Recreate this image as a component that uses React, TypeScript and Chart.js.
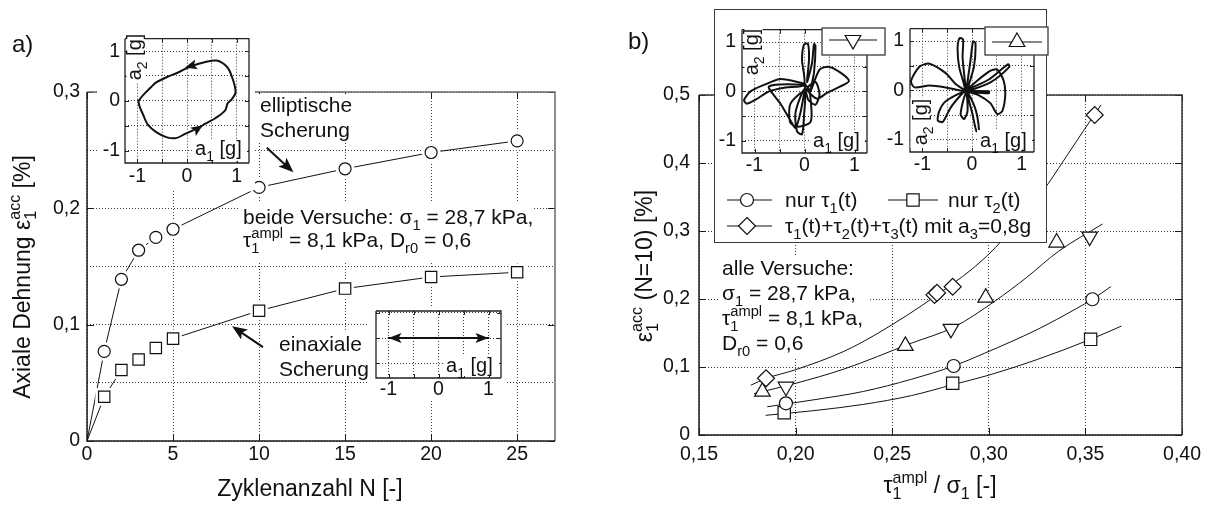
import React, { useEffect, useRef } from 'react';
import { Chart, registerables } from 'chart.js';

Chart.register(...registerables);

const FONT = '"Liberation Sans", Arial, Helvetica, sans-serif';
const INK = '#111111';
const GRID = '#3c3c3c';
const TICK_FONT = 19.5;

// ---------- a) accumulated axial strain vs. number of cycles ----------
const cyclesN = [1, 2, 3, 4, 5, 10, 15, 20, 25];
const strainElliptic = [0.077, 0.139, 0.164, 0.175, 0.182, 0.218, 0.234, 0.248, 0.258];
const strainUniaxial = [0.038, 0.061, 0.070, 0.080, 0.088, 0.112, 0.131, 0.141, 0.145];
const startN = 0;
const startStrain = 0;
const cycleTicks = [0, 5, 10, 15, 20, 25];
const strainTicksA = [0, 0.05, 0.1, 0.15, 0.2, 0.25, 0.3];

// inset: acceleration loop of the elliptic shear test (a1, a2 in g)
const loopA1 = [-0.98, -0.88, -0.72, -0.62, -0.42, -0.16, 0.07, 0.37, 0.6, 0.8, 0.9, 0.98, 0.9, 0.82, 0.77, 0.57, 0.37, 0.2, -0.03, -0.22, -0.42, -0.62, -0.79, -0.88, -0.96, -0.98];
const loopA2 = [0.0, 0.12, 0.28, 0.37, 0.47, 0.58, 0.69, 0.78, 0.81, 0.69, 0.5, 0.18, 0.03, -0.05, -0.19, -0.35, -0.46, -0.56, -0.66, -0.75, -0.73, -0.63, -0.48, -0.29, -0.1, 0.0];
// inset: acceleration path of the uniaxial shear test
const uniA1 = [-1, 1];
const uniA2 = [0, 0];
const accelTicks = [-1, -0.5, 0, 0.5, 1];
const uniA2Ticks = [-0.5, 0, 0.5];

// ---------- b) strain after N = 10 cycles vs. shear stress ratio ----------
const ratioTau1 = [0.195, 0.2818, 0.3536];
const strainTau1 = [0.0466, 0.1015, 0.1996];
const ratioTau2 = [0.1941, 0.2813, 0.3527];
const strainTau2 = [0.0328, 0.076, 0.1407];
const ratioAll = [0.1847, 0.2719, 0.2732, 0.2813, 0.3548];
const strainAll = [0.0834, 0.206, 0.209, 0.218, 0.4706];
const ratioDown = [0.195, 0.2804, 0.3522];
const strainDown = [0.071, 0.156, 0.2917];
const ratioUp = [0.1828, 0.2568, 0.2984, 0.3351];
const strainUp = [0.0637, 0.131, 0.202, 0.283];
const ratioTicks = [0.15, 0.2, 0.25, 0.3, 0.35, 0.4];
const strainTicksB = [0, 0.1, 0.2, 0.3, 0.4, 0.5];

// fitted trend curves
const fitAllX = [0.177, 0.185, 0.2, 0.225, 0.2428, 0.2727, 0.3, 0.3283, 0.3386, 0.3489, 0.358];
const fitAllY = [0.0735, 0.0834, 0.096, 0.123, 0.15, 0.205, 0.266, 0.36, 0.403, 0.447, 0.485];
const fitTriX = [0.1787, 0.2, 0.225, 0.2599, 0.2822, 0.3027, 0.3197, 0.336, 0.3587];
const fitTriY = [0.061, 0.076, 0.097, 0.135, 0.159, 0.196, 0.232, 0.27, 0.31];
const fitTau1X = [0.1855, 0.21, 0.235, 0.26, 0.2818, 0.2976, 0.325, 0.3454, 0.3536, 0.363];
const fitTau1Y = [0.0416, 0.052, 0.064, 0.082, 0.1015, 0.12, 0.155, 0.186, 0.1996, 0.218];
const fitTau2X = [0.1847, 0.21, 0.235, 0.26, 0.2813, 0.3, 0.325, 0.3527, 0.3685];
const fitTau2Y = [0.029, 0.036, 0.045, 0.058, 0.074, 0.088, 0.111, 0.1407, 0.16];

// insets: acceleration traces of the two multiaxial tests
const traceDownA1 = [0.02, -0.48, -0.81, -1.08, -1.21, -1.15, -0.98, -0.71, -0.38, -0.01,
  -0.05, -0.01, 0.07, 0.09, 0.05,
  0.15, 0.19, 0.22, 0.19, 0.12,
  0.3, 0.48, 0.72, 0.89, 0.72, 0.45, 0.25, 0.05,
  0.22, 0.3, 0.22, 0.08, 0.0,
  -0.18, -0.15, -0.05, -0.01, 0.0,
  -0.28, -0.29, -0.15, 0.12, 0.13, 0.05,
  -0.71, -0.48, -0.28, -0.18, -0.08, 0.02];
const traceDownA2 = [0.15, 0.25, 0.13, 0.0, -0.18, -0.25, -0.17, 0.0, 0.08, 0.13,
  0.64, 0.95, 0.96, 0.64, 0.19,
  0.57, 0.96, 0.92, 0.38, 0.0,
  0.44, 0.5, 0.38, 0.21, 0.1, -0.03, -0.15, 0.05,
  0.19, -0.06, -0.27, -0.18, 0.05,
  -0.43, -0.81, -0.87, -0.5, 0.0,
  -0.25, -0.62, -0.72, -0.62, -0.25, 0.1,
  0.1, -0.25, -0.59, -0.74, -0.43, 0.13];
const traceUpA1 = [-0.14, -0.33, -0.53, -0.86, -1.06, -1.23, -1.16, -0.86, -0.53, -0.26, -0.14,
  -0.26, -0.29, -0.25, -0.18, -0.19, -0.14, -0.12,
  -0.03, 0.02, 0.07, 0.04, -0.09,
  0.01, 0.09, 0.14, 0.06, -0.11,
  -0.23, -0.16, -0.09, -0.14,
  -0.53, -0.66, -0.69, -0.59, -0.43, -0.23, -0.12,
  0.34, 0.73, 0.75, 0.37, -0.1,
  0.34, 0.51, 0.64, 0.67, 0.61, 0.51, 0.37, 0.14, -0.1,
  0.34, 0.34, -0.12];
const traceUpA2 = [0.0, 0.13, 0.35, 0.54, 0.48, 0.19, 0.06, 0.1, 0.06, 0.0, 0.0,
  0.48, 0.87, 1.06, 1.03, 0.67, 0.16, 0.0,
  0.61, 0.99, 0.96, 0.48, -0.03,
  -0.48, -0.83, -0.8, -0.35, -0.04,
  -0.48, -0.58, -0.42, -0.04,
  -0.22, -0.42, -0.61, -0.64, -0.35, -0.1, 0.0,
  0.22, 0.53, 0.47, 0.16, 0.0,
  0.38, 0.42, 0.19, -0.1, -0.42, -0.48, -0.26, -0.1, -0.02,
  -0.02, -0.06, -0.03];

// ---------- helpers ----------
const pts = (xs: number[], ys: number[]) => xs.map((x, i) => ({ x, y: ys[i] }));
const fmtComma = (v: number, digits: number) => (Math.abs(v) < 1e-9 ? '0' : v.toFixed(digits).replace('.', ','));
const isMultiple = (v: number, step: number) => Math.abs(v / step - Math.round(v / step)) < 1e-6;
const intLabel = (v: number) => (isMultiple(v, 1) ? String(Math.round(v)) : '');

type AxisSpec = {
  min: number; max: number; ticks: number[]; size: number; pad: number;
  label?: (v: number) => string; showLabels?: boolean;
};

function linearAxis(s: AxisSpec) {
  return {
    type: 'linear',
    min: s.min,
    max: s.max,
    afterBuildTicks: (scale: any) => { scale.ticks = s.ticks.map((value) => ({ value })); },
    afterFit: (scale: any) => { if (scale.isHorizontal()) scale.height = s.size; else scale.width = s.size; },
    ticks: {
      display: s.showLabels !== false,
      autoSkip: false,
      maxRotation: 0,
      minRotation: 0,
      padding: s.pad,
      color: INK,
      font: { family: FONT, size: TICK_FONT },
      callback: (v: any) => (s.label ? s.label(Number(v)) : String(v)),
    },
    grid: { color: GRID, lineWidth: 1, drawTicks: false },
    border: { display: false, dash: [1, 2] },
  };
}

// axis frame with inward tick marks
const framePlugin = {
  id: 'frame',
  beforeDatasetsDraw(chart: any, _args: any, o: any) {
    if (!o || !o.width) return;
    const { ctx } = chart;
    const { left, right, top, bottom } = chart.chartArea;
    const sx = chart.scales.x;
    const sy = chart.scales.y;
    ctx.save();
    ctx.lineWidth = 1;
    ctx.strokeStyle = o.near;
    ctx.beginPath();
    for (const t of sx.ticks) {
      if (o.labeledOnly && !t.label) continue;
      const p = Math.round(sx.getPixelForValue(t.value)) + 0.5;
      ctx.moveTo(p, bottom); ctx.lineTo(p, bottom - o.tick);
      ctx.moveTo(p, top); ctx.lineTo(p, top + o.tick);
    }
    for (const t of sy.ticks) {
      if (o.labeledOnly && !t.label) continue;
      const p = Math.round(sy.getPixelForValue(t.value)) + 0.5;
      ctx.moveTo(left, p); ctx.lineTo(left + o.tick, p);
      ctx.moveTo(right, p); ctx.lineTo(right - o.tick, p);
    }
    ctx.stroke();
    ctx.lineWidth = o.width;
    ctx.strokeStyle = o.far;
    ctx.beginPath();
    ctx.moveTo(left, top); ctx.lineTo(right, top); ctx.lineTo(right, bottom);
    ctx.stroke();
    ctx.strokeStyle = o.near;
    ctx.beginPath();
    ctx.moveTo(left, top); ctx.lineTo(left, bottom); ctx.lineTo(right, bottom);
    ctx.stroke();
    ctx.restore();
  },
};

// arrows given in data coordinates
const arrowPlugin = {
  id: 'arrows',
  afterDatasetsDraw(chart: any, _args: any, o: any) {
    const items = (o && o.items) || [];
    const { ctx } = chart;
    const sx = chart.scales.x;
    const sy = chart.scales.y;
    ctx.save();
    ctx.strokeStyle = INK;
    ctx.fillStyle = INK;
    for (const a of items) {
      const x1 = sx.getPixelForValue(a.from[0]);
      const y1 = sy.getPixelForValue(a.from[1]);
      const x2 = sx.getPixelForValue(a.to[0]);
      const y2 = sy.getPixelForValue(a.to[1]);
      const ang = Math.atan2(y2 - y1, x2 - x1);
      const c = Math.cos(ang);
      const s = Math.sin(ang);
      if (!a.headOnly) {
        ctx.lineWidth = a.lw || 1.5;
        ctx.beginPath();
        ctx.moveTo(x1, y1);
        ctx.lineTo(x2 - c * a.head * 0.7, y2 - s * a.head * 0.7);
        ctx.stroke();
      }
      const bx = x2 - c * a.head;
      const by = y2 - s * a.head;
      const nx = -s;
      const ny = c;
      ctx.beginPath();
      ctx.moveTo(x2, y2);
      ctx.lineTo(bx + nx * a.half, by + ny * a.half);
      ctx.lineTo(x2 - c * a.head * 0.78, y2 - s * a.head * 0.78);
      ctx.lineTo(bx - nx * a.half, by - ny * a.half);
      ctx.closePath();
      ctx.fill();
    }
    ctx.restore();
  },
};

const marker = (data: any[], style: string, r: number, rot = 0) => ({
  data, showLine: false, pointStyle: style, pointRadius: r, pointRotation: rot,
  pointBackgroundColor: '#ffffff', pointBorderColor: INK, pointBorderWidth: 1.2,
});
const halo = (data: any[], style: string, r: number) => ({
  data, showLine: false, pointStyle: style, pointRadius: r,
  pointBackgroundColor: '#ffffff', pointBorderColor: '#ffffff', pointBorderWidth: 0,
});
const line = (data: any[], lw: number, tension: number, monotone = false) => ({
  data, showLine: true, borderColor: INK, borderWidth: lw, pointRadius: 0, fill: false,
  tension, cubicInterpolationMode: monotone ? 'monotone' : 'default',
  borderJoinStyle: 'round', borderCapStyle: 'round',
});

function baseOptions(padding: any, scales: any, plugins: any) {
  return {
    responsive: false,
    animation: false,
    events: [],
    layout: { padding },
    plugins: { legend: { display: false }, tooltip: { enabled: false }, ...plugins },
    scales,
  };
}

const insetFrame = { near: '#222222', far: '#222222', width: 1.3, tick: 4, labeledOnly: false };

// ---------- chart builders ----------
function buildStrainCycles() {
  const elliptic = pts(cyclesN, strainElliptic);
  const uniaxial = pts(cyclesN, strainUniaxial);
  const start = { x: startN, y: startStrain };
  return {
    type: 'scatter',
    data: {
      datasets: [
        marker(elliptic, 'circle', 6),
        marker(uniaxial, 'rect', 8),
        halo(elliptic, 'circle', 9.5),
        halo(uniaxial, 'rect', 12.5),
        line([start, ...elliptic], 1, 0),
        line([start, ...uniaxial], 1, 0),
      ],
    },
    options: baseOptions({ left: 37, right: 45, top: 92, bottom: 25 }, {
      x: linearAxis({ min: 0, max: 27.2, ticks: cycleTicks, size: 40, pad: 2, label: (v) => String(v) }),
      y: linearAxis({ min: 0, max: 0.3, ticks: strainTicksA, size: 50, pad: 7, label: (v) => (isMultiple(v, 0.1) ? fmtComma(v, 1) : '') }),
    }, {
      frame: { near: '#1a1a1a', far: '#6a6a6a', width: 1.5, tick: 7, labeledOnly: true },
      arrows: {
        items: [
          { from: [10.45, 0.252], to: [12.0, 0.231], lw: 2, head: 15, half: 6 },
          { from: [10.23, 0.0807], to: [8.43, 0.0987], lw: 2, head: 15, half: 6 },
        ],
      },
    }),
    plugins: [framePlugin, arrowPlugin],
  };
}

function buildEllipticInset() {
  return {
    type: 'scatter',
    data: { datasets: [line(pts(loopA1, loopA2), 2, 0.35)] },
    options: baseOptions({ left: 0, right: 6, top: 9, bottom: 0 }, {
      x: linearAxis({ min: -1.25, max: 1.25, ticks: accelTicks, size: 27, pad: 2, label: intLabel }),
      y: linearAxis({ min: -1.25, max: 1.25, ticks: accelTicks, size: 28, pad: 5, label: intLabel }),
    }, {
      frame: insetFrame,
      arrows: {
        items: [
          { from: [0.22, 0.74], to: [-0.04, 0.67], head: 12, half: 5, headOnly: true },
          { from: [0.1, -0.64], to: [0.32, -0.49], head: 12, half: 5, headOnly: true },
        ],
      },
    }),
    plugins: [framePlugin, arrowPlugin],
  };
}

function buildUniaxialInset() {
  return {
    type: 'scatter',
    data: { datasets: [line(pts(uniA1, uniA2), 2, 0)] },
    options: baseOptions({ left: 0, right: 5, top: 5, bottom: 0 }, {
      x: linearAxis({ min: -1.25, max: 1.25, ticks: accelTicks, size: 22, pad: 0, label: intLabel }),
      y: linearAxis({ min: -0.8, max: 0.54, ticks: uniA2Ticks, size: 8, pad: 0, showLabels: false }),
    }, {
      frame: insetFrame,
      arrows: {
        items: [
          { from: [-0.5, 0], to: [-1, 0], head: 13, half: 5, headOnly: true },
          { from: [0.5, 0], to: [1, 0], head: 13, half: 5, headOnly: true },
        ],
      },
    }),
    plugins: [framePlugin, arrowPlugin],
  };
}

function buildStrainRatio() {
  return {
    type: 'scatter',
    data: {
      datasets: [
        marker(pts(ratioTau1, strainTau1), 'circle', 6.5),
        marker(pts(ratioTau2, strainTau2), 'rect', 8.7),
        marker(pts(ratioAll, strainAll), 'rectRot', 8.5),
        marker(pts(ratioDown, strainDown), 'triangle', 9, 180),
        marker(pts(ratioUp, strainUp), 'triangle', 9),
        line(pts(fitAllX, fitAllY), 1, 0.4, true),
        line(pts(fitTriX, fitTriY), 1, 0.4, true),
        line(pts(fitTau1X, fitTau1Y), 1, 0.4, true),
        line(pts(fitTau2X, fitTau2Y), 1, 0.4, true),
      ],
    },
    options: baseOptions({ left: 49, right: 22, top: 95, bottom: 31 }, {
      x: linearAxis({ min: 0.15, max: 0.4, ticks: ratioTicks, size: 40, pad: 8, label: (v) => fmtComma(v, 2) }),
      y: linearAxis({ min: 0, max: 0.5, ticks: strainTicksB, size: 50, pad: 9, label: (v) => fmtComma(v, 1) }),
    }, {
      frame: { near: '#1a1a1a', far: '#333333', width: 1.5, tick: 7, labeledOnly: true },
    }),
    plugins: [framePlugin],
  };
}

function buildTraceInset(a1: number[], a2: number[]) {
  return () => ({
    type: 'scatter',
    data: { datasets: [line(pts(a1, a2), 2, 0.25)] },
    options: baseOptions({ left: 0, right: 4, top: 8, bottom: 0 }, {
      x: linearAxis({ min: -1.25, max: 1.25, ticks: accelTicks, size: 31, pad: 1, label: intLabel }),
      y: linearAxis({ min: -1.25, max: 1.25, ticks: accelTicks, size: 26, pad: 6, label: intLabel }),
    }, { frame: insetFrame }),
    plugins: [framePlugin],
  });
}

// ---------- components ----------
function ChartBox({ left, top, width, height, build, bg }: any) {
  const ref = useRef<HTMLCanvasElement>(null);
  useEffect(() => {
    const chart = new Chart(ref.current as HTMLCanvasElement, build() as any);
    return () => chart.destroy();
  }, []);
  return (
    <canvas
      ref={ref}
      width={width}
      height={height}
      style={{ position: 'absolute', left, top, width, height, background: bg || 'transparent' }}
    />
  );
}

type Part = string | { sub?: string; sup?: string };

function Rich({ x, y, fs, parts, anchor = 'start', rotate = false }: {
  x: number; y: number; fs: number; parts: Part[]; anchor?: 'start' | 'middle' | 'end'; rotate?: boolean;
}) {
  const nodes: any[] = [];
  const small = fs * 0.7;
  const down = fs * 0.28;
  const up = fs * 0.42;
  let off = 0;
  parts.forEach((p, i) => {
    if (typeof p === 'string') {
      nodes.push(<tspan key={i} fontSize={fs} dy={-off}>{p}</tspan>);
      off = 0;
    } else {
      if (p.sub !== undefined) {
        nodes.push(<tspan key={i + 's'} fontSize={small} dy={down - off}>{p.sub}</tspan>);
        off = down;
      }
      if (p.sup !== undefined) {
        const back = p.sub !== undefined ? p.sub.length * 0.556 * small : 0;
        nodes.push(<tspan key={i + 'p'} fontSize={small} dx={-back} dy={-up - off}>{p.sup}</tspan>);
        off = -up;
      }
    }
  });
  return (
    <text
      x={x}
      y={y}
      fontFamily={FONT}
      fill={INK}
      textAnchor={anchor}
      style={{ whiteSpace: 'pre' }}
      transform={rotate ? `rotate(-90 ${x} ${y})` : undefined}
    >
      {nodes}
    </text>
  );
}

function Sym({ kind, cx, cy }: { kind: string; cx: number; cy: number }) {
  const common = { fill: '#ffffff', stroke: INK, strokeWidth: 1.2 };
  if (kind === 'circle') return <circle cx={cx} cy={cy} r={6.5} {...common} />;
  if (kind === 'square') {
    const h = 6.15;
    return <rect x={cx - h} y={cy - h} width={2 * h} height={2 * h} {...common} />;
  }
  if (kind === 'diamond') {
    const r = 8.5;
    return <polygon points={`${cx},${cy - r} ${cx + r},${cy} ${cx},${cy + r} ${cx - r},${cy}`} {...common} />;
  }
  const r = 9;
  const s = kind === 'up' ? 1 : -1;
  const p = [[cx, cy - s * r], [cx + 0.866 * r, cy + s * 0.5 * r], [cx - 0.866 * r, cy + s * 0.5 * r]];
  return <polygon points={p.map((q) => q.join(',')).join(' ')} {...common} />;
}

function Key({ kind, x1, x2, cx, cy }: { kind: string; x1: number; x2: number; cx: number; cy: number }) {
  return (
    <g>
      <line x1={x1} y1={cy} x2={x2} y2={cy} stroke={INK} strokeWidth={1} />
      <Sym kind={kind} cx={cx} cy={cy} />
    </g>
  );
}

const White = ({ x, y, w, h }: { x: number; y: number; w: number; h: number }) => (
  <rect x={x} y={y} width={w} height={h} fill="#ffffff" />
);

const A2: Part[] = ['a', { sub: '2' }, ' [g]'];
const A1: Part[] = ['a', { sub: '1' }, ' [g]'];
const TAU1: Part = { sup: 'ampl', sub: '1' };

export default function App() {
  return (
    <div style={{ position: 'absolute', left: 0, top: 0, width: 1209, height: 506, background: '#ffffff', overflow: 'hidden' }}>
      <ChartBox left={0} top={0} width={600} height={506} build={buildStrainCycles} />
      <ChartBox left={600} top={0} width={609} height={506} build={buildStrainRatio} />
      <ChartBox left={97} top={22} width={158} height={168} build={buildEllipticInset} bg="#ffffff" />
      <ChartBox left={368} top={306} width={138} height={94} build={buildUniaxialInset} bg="#ffffff" />
      <div
        style={{
          position: 'absolute', left: 714, top: 9, width: 333, height: 234,
          border: '1.5px solid #3a3a3a', background: '#ffffff', boxSizing: 'border-box',
        }}
      />
      <ChartBox left={716} top={12} width={155} height={172} build={buildTraceInset(traceDownA1, traceDownA2)} bg="#ffffff" />
      <ChartBox left={884} top={11} width={154} height={172} build={buildTraceInset(traceUpA1, traceUpA2)} bg="#ffffff" />

      <svg width={1209} height={506} style={{ position: 'absolute', left: 0, top: 0 }}>
        {/* panel a) */}
        <Rich x={12} y={52} fs={24} parts={['a)']} />
        <Rich x={29.5} y={277} fs={23} rotate anchor="middle" parts={['Axiale Dehnung ε', { sup: 'acc', sub: '1' }, ' [%]']} />
        <Rich x={310} y={496} fs={23} anchor="middle" parts={['Zyklenanzahl N [-]']} />

        <White x={257} y={94} w={100} h={49} />
        <Rich x={260} y={112} fs={21} parts={['elliptische']} />
        <Rich x={260} y={137} fs={21} parts={['Scherung']} />

        <White x={240} y={203} w={292} h={59} />
        <Rich x={243} y={224} fs={21} parts={['beide Versuche: σ', { sub: '1' }, ' = 28,7 kPa,']} />
        <Rich x={243} y={247} fs={21} parts={['τ', TAU1, ' = 8,1 kPa, D', { sub: 'r0' }, ' = 0,6']} />

        <White x={276} y={332} w={95} h={48} />
        <Rich x={279} y={351} fs={21} parts={['einaxiale']} />
        <Rich x={279} y={376} fs={21} parts={['Scherung']} />

        <White x={126.5} y={31} w={18} h={52} />
        <Rich x={141} y={57} fs={20} rotate anchor="middle" parts={A2} />
        <White x={192} y={139} w={55} h={22} />
        <Rich x={195} y={155} fs={20} parts={A1} />
        <White x={443} y={355} w={56} h={21} />
        <Rich x={446} y={372} fs={20} parts={A1} />

        {/* panel b) */}
        <Rich x={628} y={49} fs={24} parts={['b)']} />
        <Rich x={652} y={266} fs={23} rotate anchor="middle" parts={['ε', { sup: 'acc', sub: '1' }, ' (N=10) [%]']} />
        <Rich x={940} y={493} fs={23} anchor="middle" parts={['τ', TAU1, ' / σ', { sub: '1' }, ' [-]']} />

        <White x={718} y={256} w={142} h={25} />
        <White x={718} y={281} w={152} h={25} />
        <White x={718} y={306} w={152} h={24} />
        <White x={718} y={330} w={94} h={27} />
        <Rich x={722} y={275} fs={21} parts={['alle Versuche:']} />
        <Rich x={722} y={300} fs={21} parts={['σ', { sub: '1' }, ' = 28,7 kPa,']} />
        <Rich x={722} y={325} fs={21} parts={['τ', TAU1, ' = 8,1 kPa,']} />
        <Rich x={722} y={350} fs={21} parts={['D', { sub: 'r0' }, ' = 0,6']} />

        <White x={744.5} y={28} w={18} h={50} />
        <Rich x={758} y={52} fs={20} rotate anchor="middle" parts={A2} />
        <White x={810} y={130} w={55} h={21} />
        <Rich x={813} y={147} fs={20} parts={A1} />
        <White x={910.5} y={98} w={19} h={50} />
        <Rich x={927} y={122} fs={20} rotate anchor="middle" parts={A2} />
        <White x={977} y={130} w={55} h={21} />
        <Rich x={980} y={147} fs={20} parts={A1} />

        <rect x={822} y={28} width={63} height={27} fill="#ffffff" stroke="#3a3a3a" strokeWidth={1.3} />
        <Key kind="down" x1={829} x2={877} cx={853} cy={40} />
        <rect x={985} y={27} width={63} height={28} fill="#ffffff" stroke="#3a3a3a" strokeWidth={1.3} />
        <Key kind="up" x1={992} x2={1042} cx={1017} cy={42} />

        <Key kind="circle" x1={727} x2={772} cx={747} cy={200} />
        <Rich x={785} y={207} fs={21} parts={['nur τ', { sub: '1' }, '(t)']} />
        <Key kind="square" x1={888} x2={938} cx={913} cy={200} />
        <Rich x={948} y={207} fs={21} parts={['nur τ', { sub: '2' }, '(t)']} />
        <Key kind="diamond" x1={727} x2={772} cx={747} cy={226} />
        <Rich
          x={785}
          y={233}
          fs={21}
          parts={['τ', { sub: '1' }, '(t)+τ', { sub: '2' }, '(t)+τ', { sub: '3' }, '(t) mit a', { sub: '3' }, '=0,8g']}
        />
      </svg>
    </div>
  );
}
